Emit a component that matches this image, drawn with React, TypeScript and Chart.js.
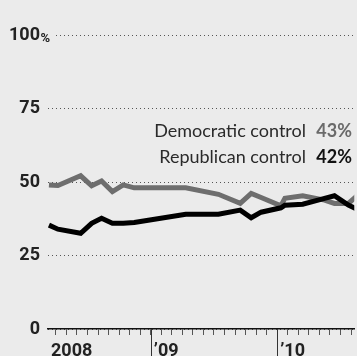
import { useEffect, useRef } from "react";
import { Chart, registerables } from "chart.js";

Chart.register(...registerables);

// Months counted from January 2008 (0 = Jan 2008, 12 = Jan 2009, 24 = Jan 2010)
const pollMonths = [2.34, 3.19, 5.35, 6.39, 7.33, 8.36, 9.39, 10.43, 15.32, 18.42, 20.49, 21.53, 22.47, 24.35, 24.73, 26.42, 28.49, 29.43, 30.75, 31.78];
const democraticControl = [49.1, 48.9, 52.2, 48.8, 50.4, 46.8, 49.1, 48.1, 48.1, 45.9, 42.8, 46.2, 44.8, 42.0, 44.5, 45.4, 43.9, 42.8, 42.8, 46.0];
const republicanControl = [35.4, 34.0, 32.6, 36.0, 37.7, 36.0, 36.0, 36.3, 39.1, 39.1, 40.5, 37.9, 39.8, 41.3, 42.2, 42.5, 44.5, 45.4, 42.2, 40.5];

const yTickValues = [0, 25, 50, 75, 100];
const yearTickValues = [12, 24];
const yearLabels = ["2008", "\u201909", "\u201910"];
const seriesLabels = ["Democratic control", "Republican control"];
const latestValues = ["43%", "42%"];

const X_MIN = 2.25;
const X_MAX = 31.31;

const BG = "#ebebeb";
const GRAY = "#6e6e6e";
const BLACK = "#000000";
const TICK_FONT = "Roboto, sans-serif";
const TEXT_FONT = "Lato, 'Open Sans', sans-serif";

export default function App() {
  const ref = useRef<HTMLCanvasElement | null>(null);

  useEffect(() => {
    if (!ref.current) return;

    const decorations = {
      id: "decorations",
      afterDraw(chart: any) {
        const { ctx, chartArea } = chart;
        const xs = chart.scales.x;
        const ys = chart.scales.y;
        ctx.save();
        // long year ticks
        ctx.strokeStyle = "#333";
        ctx.lineWidth = 1;
        yearTickValues.forEach((v) => {
          const x = Math.round(xs.getPixelForValue(v)) + 0.5;
          ctx.beginPath();
          ctx.moveTo(x, chartArea.bottom);
          ctx.lineTo(x, chart.height);
          ctx.stroke();
        });
        // hanging % on 100 label, clear grid under it
        const y100 = ys.getPixelForValue(100);
        ctx.fillStyle = BG;
        ctx.fillRect(chartArea.left - 2, y100 - 3, 9, 6);
        ctx.fillStyle = "#222";
        ctx.font = `bold 13px ${TICK_FONT}`;
        ctx.textAlign = "left";
        ctx.textBaseline = "alphabetic";
        ctx.fillText("%", 40.5, y100 + 6.5);
        // legend text
        const baselines = [136.5, 162.5];
        const valueColors = ["#6a6a6a", "#111"];
        seriesLabels.forEach((label, i) => {
          ctx.font = `18px ${TEXT_FONT}`;
          ctx.fillStyle = "#2a2a2a";
          ctx.textAlign = "right";
          ctx.fillText(label, 306, baselines[i]);
          ctx.font = `bold 18px ${TEXT_FONT}`;
          ctx.fillStyle = valueColors[i];
          ctx.fillText(latestValues[i], 352, baselines[i]);
        });
        ctx.restore();
      },
    };

    const chart = new Chart(ref.current, {
      type: "line",
      data: {
        datasets: [
          {
            label: seriesLabels[0],
            data: pollMonths.map((m, i) => ({ x: m, y: democraticControl[i] })),
            borderColor: GRAY,
            borderWidth: 5,
            pointRadius: 0,
            tension: 0,
            order: 1,
          },
          {
            label: seriesLabels[1],
            data: pollMonths.map((m, i) => ({ x: m, y: republicanControl[i] })),
            borderColor: BLACK,
            borderWidth: 5,
            pointRadius: 0,
            tension: 0,
            order: 0,
          },
        ],
      },
      options: {
        animation: false,
        responsive: false,
        devicePixelRatio: 1,
        layout: { padding: { top: 35.5, left: 0, right: 0, bottom: 0 } },
        plugins: { legend: { display: false }, tooltip: { enabled: false } },
        scales: {
          x: {
            type: "linear",
            min: X_MIN,
            max: X_MAX,
            afterFit: (s: any) => {
              s.height = 27;
            },
            afterBuildTicks: (s: any) => {
              const t = [{ value: X_MIN }];
              for (let m = 3; m <= 31; m++) t.push({ value: m });
              s.ticks = t;
            },
            border: { display: true, color: "#111", width: 1.5 },
            grid: {
              drawOnChartArea: false,
              drawTicks: true,
              tickLength: 6,
              color: "#555",
              tickColor: (c: any) => (c.tick && c.tick.value === X_MIN ? "rgba(0,0,0,0)" : "#555"),
            },
            ticks: {
              autoSkip: false,
              maxRotation: 0,
              minRotation: 0,
              align: "start",
              labelOffset: 3,
              padding: 6,
              color: "#222",
              font: { family: TICK_FONT, size: 18, weight: "bold" },
              callback: (v: any) => {
                if (v === X_MIN) return yearLabels[0];
                const k = yearTickValues.indexOf(v);
                return k >= 0 ? yearLabels[k + 1] : "";
              },
            },
          },
          y: {
            min: 0,
            max: 100,
            afterFit: (s: any) => {
              s.width = 48;
            },
            afterBuildTicks: (s: any) => {
              s.ticks = yTickValues.map((v) => ({ value: v }));
            },
            border: { display: false, dash: [1, 3] },
            grid: { color: "#555", lineWidth: 1, drawTicks: false },
            ticks: {
              padding: 8,
              color: "#222",
              font: { family: TICK_FONT, size: 18, weight: "bold" },
              callback: (v: any) => String(v),
            },
          },
        },
      },
      plugins: [decorations],
    } as any);

    return () => chart.destroy();
  }, []);

  return (
    <div style={{ position: "fixed", left: 0, top: 0, width: 357, height: 356, background: BG, overflow: "hidden" }}>
      <canvas ref={ref} width={357} height={356} style={{ display: "block" }} />
    </div>
  );
}
